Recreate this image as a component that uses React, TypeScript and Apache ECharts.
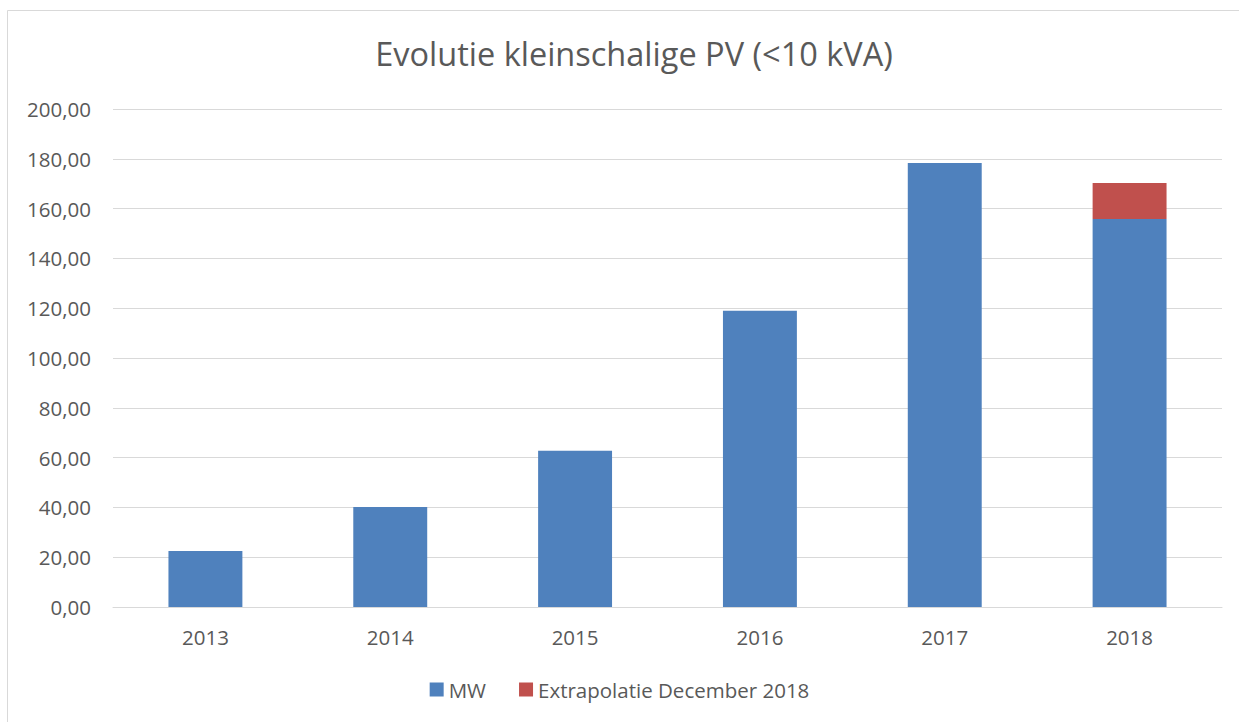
import React, { useEffect, useRef } from "react";
import * as echarts from "echarts";

const years = ["2013", "2014", "2015", "2016", "2017", "2018"];
const mwValues = [22.5, 40.2, 62.8, 119.0, 178.3, 155.8];
const extrapolatieValues = [null, null, null, null, null, 14.5];
const yTicks = { min: 0, max: 200, interval: 20 };

const FONT = "'Open Sans', 'Noto Sans', sans-serif";
const TXT = "#595959";

export default function App() {
  const ref = useRef<HTMLDivElement>(null);
  useEffect(() => {
    const chart = echarts.init(ref.current!, null, { renderer: "svg" });
    chart.setOption({
      animation: false,
      backgroundColor: "#ffffff",
      textStyle: { fontFamily: FONT },
      title: {
        text: "Evolutie kleinschalige PV (<10 kVA)",
        left: 629,
        textAlign: "center",
        top: 32,
        textStyle: { fontFamily: FONT, fontSize: 32.5, fontWeight: "normal", color: TXT },
      },
      graphic: [
        { type: "line", shape: { x1: 7.5, y1: 10.5, x2: 1239, y2: 10.5 }, style: { stroke: "#d9d9d9", lineWidth: 1 } },
        { type: "line", shape: { x1: 7.5, y1: 10.5, x2: 7.5, y2: 722 }, style: { stroke: "#d9d9d9", lineWidth: 1 } },
      ],
      legend: {
        bottom: 17,
        left: "center",
        itemWidth: 14,
        itemHeight: 14,
        itemGap: 33,
        icon: "rect",
        textStyle: { fontFamily: FONT, fontSize: 20.5, color: TXT },
        data: ["MW", "Extrapolatie December 2018"],
      },
      grid: { left: 113, right: 17, top: 109, bottom: 115, containLabel: false },
      xAxis: {
        type: "category",
        data: years,
        axisLine: { lineStyle: { color: "#d9d9d9", width: 1 } },
        axisTick: { show: false },
        axisLabel: { fontFamily: FONT, fontSize: 20.5, color: TXT, margin: 19 },
      },
      yAxis: {
        type: "value",
        min: yTicks.min,
        max: yTicks.max,
        interval: yTicks.interval,
        axisLine: { show: false },
        axisTick: { show: false },
        splitLine: { lineStyle: { color: "#d9d9d9", width: 1 } },
        axisLabel: {
          fontFamily: FONT,
          fontSize: 20.5,
          color: TXT,
          margin: 22,
          formatter: (v: number) => v.toFixed(2).replace(".", ","),
        },
      },
      series: [
        {
          name: "MW",
          type: "bar",
          stack: "total",
          data: mwValues,
          barWidth: "40%",
          itemStyle: { color: "#4f81bd" },
        },
        {
          name: "Extrapolatie December 2018",
          type: "bar",
          stack: "total",
          data: extrapolatieValues,
          barWidth: "40%",
          itemStyle: { color: "#c0504d" },
        },
      ],
    });
    return () => chart.dispose();
  }, []);
  return (
    <div
      ref={ref}
      style={{ position: "absolute", left: 0, top: 0, width: 1239, height: 722 }}
    />
  );
}
